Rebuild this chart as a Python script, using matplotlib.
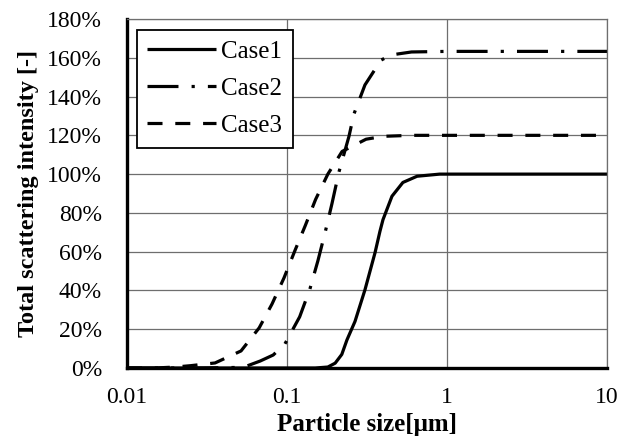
import matplotlib
matplotlib.use("Agg")
import matplotlib.pyplot as plt
from matplotlib.ticker import FixedLocator, FuncFormatter

plt.rcParams['font.family'] = ['Liberation Serif', 'DejaVu Serif']

# Data (particle size in µm, intensity in %)
case1_x = [0.01, 0.15, 0.18, 0.2, 0.22, 0.237, 0.266, 0.307, 0.355, 0.381, 0.398, 0.453, 0.53, 0.65, 0.9, 10]
case1_y = [0, 0, 0.5, 2.5, 7, 14.5, 24, 40.3, 59.5, 70.5, 76.5, 88.6, 95.7, 98.9, 100, 100]

case2_x = [0.01, 0.03, 0.05, 0.056, 0.068, 0.082, 0.097, 0.12, 0.139, 0.156, 0.174, 0.191, 0.211, 0.244, 0.262, 0.307, 0.387, 0.45, 0.6, 1, 10]
case2_y = [0, 0, 0.3, 1, 3.6, 6.7, 12.4, 26.4, 40.7, 55.3, 70.7, 84.8, 101, 119.5, 131, 146, 158.8, 161.5, 163, 163.3, 163.3]

case3_x = [0.01, 0.015, 0.02, 0.025, 0.0355, 0.0516, 0.067, 0.0806, 0.0958, 0.112, 0.13, 0.151, 0.18, 0.221, 0.312, 0.4, 0.6, 10]
case3_y = [0, 0, 0.5, 1.2, 2.6, 8.8, 20.7, 33, 46.5, 60.5, 73.4, 87, 100, 111.7, 118, 119.5, 120, 120]

x_ticks = [0.01, 0.1, 1, 10]
x_tick_labels = ["0.01", "0.1", "1", "10"]
y_ticks = [0, 20, 40, 60, 80, 100, 120, 140, 160, 180]

fig = plt.figure(figsize=(6.36, 4.37), dpi=100)
ax = fig.add_axes([0.1997, 0.1579, 0.7547, 0.7986])

lw = 2.3
ax.plot(case1_x, case1_y, color='black', lw=lw, ls='-', label='Case1', solid_capstyle='butt')
ax.plot(case2_x, case2_y, color='black', lw=lw, ls=(0, (9.7, 4.1, 1.0, 4.1)), label='Case2', dash_capstyle='butt')
ax.plot(case3_x, case3_y, color='black', lw=lw, ls=(0, (4.7, 4.0)), label='Case3', dash_capstyle='butt')

ax.set_xscale('log')
ax.set_xlim(0.01, 10)
ax.set_ylim(0, 180)
ax.xaxis.set_major_locator(FixedLocator(x_ticks))
ax.xaxis.set_minor_locator(FixedLocator([]))
ax.set_xticklabels(x_tick_labels)
ax.yaxis.set_major_locator(FixedLocator(y_ticks))
ax.yaxis.set_major_formatter(FuncFormatter(lambda v, p: f"{int(round(v))}%"))
ax.tick_params(axis='both', length=0, labelsize=17)
ax.tick_params(axis='y', pad=18)
ax.tick_params(axis='x', pad=14)

ax.grid(True, which='major', color='#6e6e6e', lw=0.9)
ax.set_axisbelow(True)

for s in ['top', 'right']:
    ax.spines[s].set_color('#6e6e6e')
    ax.spines[s].set_linewidth(0.9)
for s in ['left', 'bottom']:
    ax.spines[s].set_color('black')
    ax.spines[s].set_linewidth(2.4)

ax.set_xlabel('Particle size[μm]', fontsize=18, fontweight='bold', labelpad=3)
ax.set_ylabel('Total scattering intensity [-]', fontsize=17.5, fontweight='bold', labelpad=6)

leg = ax.legend(loc='upper left', bbox_to_anchor=(0.0208, 0.968), fontsize=18,
                handlelength=2.75, handletextpad=0.2, labelspacing=0.58,
                borderpad=0.42, borderaxespad=0, fancybox=False, framealpha=1,
                edgecolor='black')
leg.get_frame().set_linewidth(1.3)

fig.savefig('out.png', dpi=100)
